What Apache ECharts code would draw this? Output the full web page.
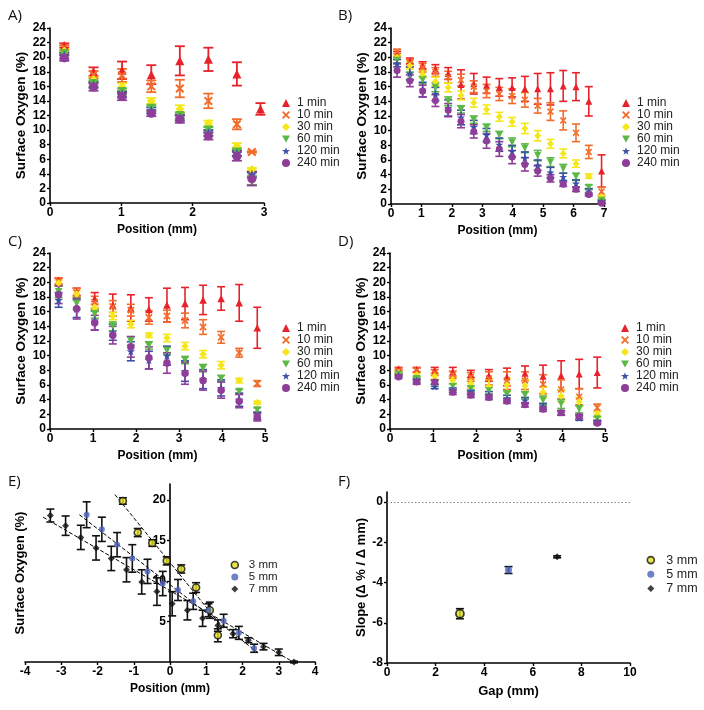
<!DOCTYPE html>
<html><head><meta charset="utf-8">
<script src="https://cdn.jsdelivr.net/npm/echarts@6/dist/echarts.min.js"></script>
<style>html,body{margin:0;padding:0;background:#fff}#c{width:704px;height:710px}</style>
</head><body><div id="c"></div><script>
// ---------- names / ticks ----------
const timeNames = ['1 min','10 min','30 min','60 min','120 min','240 min'];
const gapNames = ['3 mm','5 mm','7 mm'];
const yTicksE = [5,10,15,20];
const yTicksF = [-8,-6,-4,-2,0];

// ---------- Panel A (3 mm gap) ----------
const posA  = [0.2,0.61,1.01,1.42,1.82,2.22,2.62,2.83];
const posA1 = [0.2,0.61,1.01,1.42,1.82,2.22,2.62,2.95];
const a1   = [21.6,18.0,18.2,17.6,19.5,19.7,17.7,12.9];
const a1e  = [0.3,0.6,1.2,1.3,2.0,1.6,1.6,0.8];
const a10  = [21.3,17.6,17.5,16.0,15.7,14.0,10.8,7.0];
const a10e = [0.3,0.5,0.9,0.8,1.2,1.0,0.7,0.1];
const a30  = [20.8,16.9,15.9,14.0,12.9,10.9,7.8,4.6];
const a30e = [0.3,0.4,0.5,0.4,0.5,0.4,0.4,0.2];
const a60  = [20.5,16.4,15.3,13.0,12.0,10.0,7.0,3.1];
const a60e = [0.3,0.4,0.4,0.4,0.4,0.4,0.5,0.6];
const a120 = [20.2,16.2,14.9,12.7,11.7,9.6,6.8,3.9];
const a120e= [0.4,0.4,0.4,0.4,0.4,0.4,0.4,0.4];
const a240 = [19.9,15.9,14.6,12.3,11.5,9.2,6.4,3.3];
const a240e= [0.4,0.5,0.5,0.4,0.5,0.5,0.6,0.9];

// ---------- Panel B (7 mm gap) ----------
const posB = [0.2,0.62,1.04,1.46,1.88,2.3,2.72,3.14,3.56,3.98,4.4,4.82,5.24,5.66,6.08,6.5,6.92];
const b1   = [20.4,19.5,18.9,18.4,17.8,16.3,16.4,16.2,15.9,15.9,15.7,15.7,15.7,16.1,16.0,14.0,4.5];
const b1e  = [0.4,0.4,0.5,0.6,0.8,2.0,1.4,1.1,1.2,1.3,1.7,2.1,2.2,2.1,1.9,2.0,2.2];
const b10  = [20.8,19.2,18.6,18.0,17.3,16.9,16.0,15.4,15.0,14.7,14.2,13.4,12.6,11.4,9.7,7.1,1.7];
const b10e = [0.3,0.5,0.6,0.6,0.8,0.8,0.8,0.9,0.9,1.0,1.0,1.0,1.2,1.3,1.2,0.9,0.6];
const b30  = [20.0,18.9,17.7,16.7,15.9,14.8,13.8,12.9,11.9,11.2,10.3,9.3,8.2,6.9,5.5,3.8,0.9];
const b30e = [0.3,0.5,0.5,0.6,0.6,0.6,0.6,0.6,0.6,0.6,0.7,0.7,0.6,0.6,0.5,0.3,0.3];
const b60  = [19.6,17.5,16.9,15.9,14.0,12.9,11.5,10.4,9.4,8.4,7.6,6.6,5.7,4.8,3.7,2.3,0.5];
const b60e = [0.4,0.5,0.5,0.6,0.6,0.5,0.5,0.5,0.5,0.6,0.6,0.7,0.6,0.6,0.5,0.3,0.2];
const b120 = [19.2,17.8,15.6,15.0,13.1,11.8,10.5,9.4,8.1,7.2,6.3,5.3,4.3,3.7,2.8,1.7,0.3];
const b120e= [0.5,0.9,1.0,0.9,1.1,1.0,0.9,0.9,0.9,0.8,0.8,0.7,0.7,0.5,0.5,0.4,0.2];
const b240 = [18.2,16.8,15.4,14.1,12.8,11.3,9.9,8.6,7.5,6.4,5.4,4.5,3.5,2.7,2.0,1.3,0.1];
const b240e= [0.9,0.8,0.8,0.8,0.9,0.9,0.9,1.0,1.0,0.9,0.9,0.7,0.5,0.3,0.3,0.2,0.1];

// ---------- Panel C (5 mm gap) ----------
const posC = [0.2,0.62,1.04,1.46,1.88,2.3,2.72,3.14,3.56,3.98,4.4,4.82];
const c1   = [20.2,18.7,17.8,16.9,16.5,16.3,16.9,17.1,17.6,17.8,17.2,13.8];
const c1e  = [0.4,0.5,0.8,1.5,1.8,1.6,2.3,2.2,2.0,1.6,2.5,2.8];
const c10  = [20.1,18.6,17.3,16.7,16.2,15.2,15.4,14.8,13.9,12.5,10.4,6.2];
const c10e = [0.5,0.6,0.8,0.8,0.8,0.9,0.8,1.0,1.0,0.8,0.6,0.4];
const c30  = [19.9,18.4,16.5,15.4,14.3,12.8,12.4,11.3,10.2,8.7,6.6,3.6];
const c30e = [0.4,0.5,0.5,0.5,0.5,0.3,0.5,0.5,0.5,0.5,0.3,0.2];
const c60  = [18.7,17.1,15.7,14.0,12.0,11.4,10.7,9.4,8.3,6.9,5.1,2.6];
const c60e = [0.8,0.8,0.6,0.6,0.6,0.5,0.5,0.5,0.5,0.4,0.3,0.3];
const c120 = [17.6,16.4,14.8,13.2,10.6,9.4,10.0,7.9,6.8,5.6,4.0,1.8];
const c120e= [1.0,1.2,1.3,1.1,1.3,1.2,1.3,1.4,1.3,1.1,0.9,0.5];
const c240 = [18.3,16.4,14.5,12.8,11.2,9.7,9.0,7.6,6.6,5.3,3.8,1.6];
const c240e= [1.2,1.4,1.0,1.2,1.4,1.5,1.4,1.5,1.3,1.1,0.9,0.5];

// ---------- Panel D (5 mm gap, low O2) ----------
const posD = [0.2,0.62,1.04,1.46,1.88,2.3,2.72,3.14,3.56,3.98,4.4,4.82];
const d1   = [8.2,8.1,8.0,7.8,7.5,7.3,7.1,7.6,7.2,7.3,7.5,7.7];
const d1e  = [0.2,0.3,0.4,0.6,0.5,0.8,1.2,1.0,1.5,2.0,2.0,2.1];
const d10  = [8.0,8.0,7.7,7.4,7.1,6.9,6.6,6.6,6.1,5.4,4.4,2.9];
const d10e = [0.2,0.3,0.4,0.5,0.6,0.9,1.2,1.2,1.3,1.3,1.1,0.5];
const d30  = [7.7,7.4,7.2,6.6,6.2,5.8,6.0,5.9,5.0,4.5,3.7,2.0];
const d30e = [0.2,0.3,0.4,0.5,0.6,1.0,0.9,0.8,0.7,0.8,0.6,0.4];
const d60  = [7.5,6.9,6.2,5.8,5.5,5.2,4.7,4.6,3.9,3.4,2.7,1.4];
const d60e = [0.2,0.3,0.4,0.4,0.4,0.5,0.5,0.5,0.6,0.6,0.5,0.3];
const d120 = [7.3,6.6,5.8,5.3,5.0,4.7,4.2,3.9,3.1,2.2,1.5,1.0];
const d120e= [0.2,0.3,0.3,0.3,0.3,0.4,0.4,0.4,0.4,0.3,0.3,0.2];
const d240 = [7.1,6.4,6.4,5.0,4.6,4.3,3.8,3.3,2.7,2.2,1.7,0.8];
const d240e= [0.2,0.3,0.3,0.3,0.3,0.3,0.3,0.3,0.3,0.3,0.3,0.2];

// ---------- Panel E (centred profiles) ----------
const posE3 = [-1.3,-0.89,-0.49,-0.09,0.31,0.72,1.1,1.32];
const e3    = [19.9,16.0,14.7,12.5,11.5,9.2,6.4,3.3];
const e3e   = [0.4,0.5,0.4,0.5,0.5,0.6,1.0,0.8];
const posE5 = [-2.3,-1.88,-1.46,-1.04,-0.62,-0.2,0.22,0.64,1.06,1.48,1.9,2.32];
const e5    = [18.2,16.4,14.5,12.8,11.2,9.7,8.9,7.5,6.4,5.1,3.6,1.7];
const e5e   = [1.6,1.5,1.5,1.7,1.5,1.5,1.3,1.0,0.8,0.8,0.8,0.5];
const posE7 = [-3.3,-2.88,-2.46,-2.04,-1.62,-1.2,-0.78,-0.36,0.06,0.48,0.9,1.32,1.74,2.16,2.58,3.0,3.42];
const e7    = [18.1,16.85,15.4,14.1,12.8,11.4,9.9,8.7,7.2,6.4,5.4,4.5,3.5,2.7,1.9,1.2,0.0];
const e7e   = [0.8,1.2,1.5,1.5,1.5,1.5,1.5,1.7,1.5,1.2,1.0,0.7,0.5,0.3,0.4,0.4,0.1];
const fitX3 = [-1.52,1.5],  fitY3 = [20.7,4.0];
const fitX5 = [-2.5,2.4],   fitY5 = [18.2,1.25];
const fitX7 = [-3.5,3.4],   fitY7 = [17.9,0.0];

// ---------- Panel F (slopes) ----------
const gapX  = [3,5,7];
const slope = [-5.55,-3.38,-2.72];
const slopeE= [0.25,0.17,0.05];

// ---------- styling ----------
const COLORS = ['#e8222a','#f26d2b','#f5e617','#5cb846','#3a4fa6','#8e3d98'];
const SYMS = ['triangle',
  'path://M1.6,0 L5,3.4 L8.4,0 L10,1.6 L6.6,5 L10,8.4 L8.4,10 L5,6.6 L1.6,10 L0,8.4 L3.4,5 L0,1.6 Z',
  'diamond',
  'path://M0,0 L10,0 L5,8.7 Z',
  'path://M5,0 L6.2,3.6 L10,3.6 L6.9,5.9 L8.1,9.5 L5,7.3 L1.9,9.5 L3.1,5.9 L0,3.6 L3.8,3.6 Z',
  'circle'];
const GAPCOL = ['#e3e01e','#4a62bb','#111111'];
const GAPSYM = ['circle','circle','diamond'];
const FONT = 'Liberation Sans, Arial, sans-serif';

function errRender(capHalf, lw, fixedColor) {
  return function (params, api) {
    const x = api.value(0), y = api.value(1), e = api.value(2);
    const t = api.coord([x, y + e]), b = api.coord([x, y - e]);
    const st = { stroke: fixedColor || api.visual('color'), lineWidth: lw };
    return { type: 'group', children: [
      { type: 'line', shape: { x1: t[0], y1: t[1], x2: b[0], y2: b[1] }, style: st },
      { type: 'line', shape: { x1: t[0] - capHalf, y1: t[1], x2: t[0] + capHalf, y2: t[1] }, style: st },
      { type: 'line', shape: { x1: b[0] - capHalf, y1: b[1], x2: b[0] + capHalf, y2: b[1] }, style: st }
    ]};
  };
}

function xAxisOf(g, min, max, interval, name, fs, gap) {
  return { gridIndex: g, type: 'value', min, max, interval,
    name, nameLocation: 'middle', nameGap: gap,
    nameTextStyle: { fontFamily: FONT, fontWeight: 'bold', fontSize: fs, color: '#000' },
    axisLine: { onZero: false, lineStyle: { color: '#000', width: 1.6 } },
    axisTick: { length: 3, lineStyle: { color: '#000', width: 1.4 } },
    axisLabel: { margin: 4, fontFamily: FONT, fontWeight: 'bold', fontSize: 12, color: '#000' },
    splitLine: { show: false } };
}
function yAxisOf(g, min, max, interval, name, fs, gap) {
  return { gridIndex: g, type: 'value', min, max, interval,
    name, nameLocation: 'middle', nameGap: gap,
    nameTextStyle: { fontFamily: FONT, fontWeight: 'bold', fontSize: fs, color: '#000' },
    axisLine: { show: true, onZero: false, lineStyle: { color: '#000', width: 1.6 } },
    axisTick: { show: true, length: 3, lineStyle: { color: '#000', width: 1.4 } },
    axisLabel: { margin: 4, fontFamily: FONT, fontWeight: 'bold', fontSize: 12, color: '#000' },
    splitLine: { show: false } };
}

function panelSeries(g, sets, symSize, capHalf, lw) {
  const out = [];
  sets.forEach((st, i) => {
    out.push({ type: 'custom', name: timeNames[i] + ' err', xAxisIndex: g, yAxisIndex: g,
      renderItem: errRender(capHalf, lw), itemStyle: { color: COLORS[i] }, silent: true, z: 2,
      encode: { x: 0, y: 1 }, data: st[0].map((x, j) => [x, st[1][j], st[2][j]]) });
  });
  sets.forEach((st, i) => {
    out.push({ type: 'scatter', name: timeNames[i], xAxisIndex: g, yAxisIndex: g,
      symbol: SYMS[i], symbolSize: (i === 4 ? symSize + 1 : symSize), silent: true, z: 3,
      itemStyle: { color: COLORS[i], opacity: 1 },
      data: st[0].map((x, j) => [x, st[1][j]]) });
  });
  return out;
}

function timeLegend(left, top) {
  return { orient: 'vertical', left, top, padding: 0, itemWidth: 8, itemHeight: 8, itemGap: 0,
    selectedMode: false,
    textStyle: { fontFamily: FONT, fontSize: 12, lineHeight: 11.8, color: '#222', padding: [0, 0, 0, 2] },
    data: timeNames.map((n, i) => ({ name: n, icon: SYMS[i], itemStyle: { color: COLORS[i] } })) };
}

const series = [].concat(
  panelSeries(0, [[posA1,a1,a1e],[posA,a10,a10e],[posA,a30,a30e],[posA,a60,a60e],[posA,a120,a120e],[posA,a240,a240e]], 9, 5, 1.8),
  panelSeries(1, [[posB,b1,b1e],[posB,b10,b10e],[posB,b30,b30e],[posB,b60,b60e],[posB,b120,b120e],[posB,b240,b240e]], 7, 4, 1.6),
  panelSeries(2, [[posC,c1,c1e],[posC,c10,c10e],[posC,c30,c30e],[posC,c60,c60e],[posC,c120,c120e],[posC,c240,c240e]], 7.5, 4, 1.6),
  panelSeries(3, [[posD,d1,d1e],[posD,d10,d10e],[posD,d30,d30e],[posD,d60,d60e],[posD,d120,d120e],[posD,d240,d240e]], 7, 4, 1.6)
);

// Panel E
const eSets = [[posE3,e3,e3e],[posE5,e5,e5e],[posE7,e7,e7e]];
const fits = [[fitX3,fitY3],[fitX5,fitY5],[fitX7,fitY7]];
fits.forEach((f, i) => {
  series.push({ type: 'line', name: gapNames[i] + ' fit', xAxisIndex: 4, yAxisIndex: 4, symbol: 'none', silent: true, z: 1,
    lineStyle: { color: '#000', width: 1, type: [4, 2] }, data: f[0].map((x, j) => [x, f[1][j]]) });
});
eSets.forEach((st, i) => {
  series.push({ type: 'custom', name: gapNames[i] + ' err', xAxisIndex: 4, yAxisIndex: 4, silent: true, z: 2,
    renderItem: errRender(4, 1.6, '#111'), encode: { x: 0, y: 1 },
    data: st[0].map((x, j) => [x, st[1][j], st[2][j]]) });
});
eSets.forEach((st, i) => {
  series.push({ type: 'scatter', name: gapNames[i], xAxisIndex: 4, yAxisIndex: 4, silent: true, z: 3,
    symbol: GAPSYM[i], symbolSize: i === 0 ? 7 : (i === 1 ? 6 : 7),
    itemStyle: i === 0 ? { color: GAPCOL[0], borderColor: '#111', borderWidth: 1.6 } : { color: GAPCOL[i] },
    data: st[0].map((x, j) => [x, st[1][j]]) });
});

// Panel F
gapX.forEach((gx, i) => {
  series.push({ type: 'custom', name: gapNames[i] + ' slope err', xAxisIndex: 5, yAxisIndex: 5, silent: true, z: 2,
    renderItem: errRender(4, 1.6, '#111'), encode: { x: 0, y: 1 }, data: [[gx, slope[i], slopeE[i]]] });
});
gapX.forEach((gx, i) => {
  const s = { type: 'scatter', name: gapNames[i], xAxisIndex: 5, yAxisIndex: 5, silent: true, z: 3,
    symbol: GAPSYM[i], symbolSize: i === 0 ? 8 : 7,
    itemStyle: i === 0 ? { color: GAPCOL[0], borderColor: '#111', borderWidth: 1.8 } : { color: GAPCOL[i] },
    data: [[gx, slope[i]]] };
  if (i === 0) s.markLine = { silent: true, symbol: 'none', label: { show: false },
    lineStyle: { color: '#888', type: [1.5, 2], width: 1 }, data: [{ yAxis: 0 }] };
  series.push(s);
});

const grids = [
  { left: 50, top: 28, width: 214, height: 175 },
  { left: 391, top: 28, width: 213, height: 176 },
  { left: 50, top: 253, width: 215, height: 176 },
  { left: 390, top: 253, width: 215, height: 176 },
  { left: 25, top: 484, width: 290, height: 178 },
  { left: 387, top: 492, width: 243, height: 171 }
].map(g => Object.assign({ containLabel: false, outerBoundsMode: 'none' }, g));

const SO = 'Surface Oxygen (%)';
const xAxes = [
  xAxisOf(0, 0, 3, 1, 'Position (mm)', 12, 21),
  xAxisOf(1, 0, 7, 1, 'Position (mm)', 12, 21),
  xAxisOf(2, 0, 5, 1, 'Position (mm)', 12, 21),
  xAxisOf(3, 0, 5, 1, 'Position (mm)', 12, 21),
  xAxisOf(4, -4, 4, 1, 'Position (mm)', 12, 21),
  xAxisOf(5, 0, 10, 2, 'Gap (mm)', 13, 22)
];
const yAxes = [
  yAxisOf(0, 0, 24, 2, SO, 13.5, 21),
  yAxisOf(1, 0, 24, 2, SO, 13.5, 21),
  yAxisOf(2, 0, 24, 2, SO, 13.5, 21),
  yAxisOf(3, 0, 24, 2, SO, 13.5, 21),
  yAxisOf(4, 0, 22, 5, '', 12, 20),
  yAxisOf(5, -8, 0.5, 2, 'Slope (\u0394 % / \u0394 mm)', 13, 19)
];
// E: y axis drawn through x = 0 (grid spans -4..4, so 0 sits 145 px inside the left edge)
yAxes[4].offset = -145;
yAxes[4].axisLabel.customValues = yTicksE;
yAxes[4].axisTick.customValues = yTicksE;
yAxes[5].axisLabel.customValues = yTicksF;
yAxes[5].axisTick.customValues = yTicksF;

const gapLegend = (left, top, fs, lh, pad) => ({ orient: 'vertical', left, top, padding: 0, itemWidth: 7, itemHeight: 7, itemGap: 0,
  selectedMode: false,
  textStyle: { fontFamily: FONT, fontSize: fs, lineHeight: lh, color: '#222', padding: [0, 0, 0, pad] },
  data: gapNames.map((n, i) => ({ name: n, icon: GAPSYM[i],
    itemStyle: i === 0 ? { color: GAPCOL[0], borderColor: '#111', borderWidth: 1.6 } : { color: GAPCOL[i] } })) });

const lbl = (t, x, y) => ({ type: 'text', x, y, style: { text: t, font: '15px "Open Sans", sans-serif', fill: '#111' } });

const option = {
  animation: false,
  backgroundColor: '#fff',
  grid: grids,
  xAxis: xAxes,
  yAxis: yAxes,
  legend: [timeLegend(282, 97), timeLegend(622, 97), timeLegend(282, 322), timeLegend(621, 322),
    gapLegend(230.5, 559, 11.5, 12, 5.5), gapLegend(646.5, 553, 12.5, 14.2, 7)],
  graphic: [
    lbl('A)', 8, 8), lbl('B)', 338, 8), lbl('C)', 8, 234), lbl('D)', 338, 234),
    lbl('E)', 8, 474), lbl('F)', 338, 474),
    { type: 'text', x: 20, y: 573, rotation: Math.PI / 2,
      style: { text: SO, align: 'center', verticalAlign: 'middle', font: 'bold 13px ' + FONT, fill: '#000' } }
  ],
  series
};
const chart = echarts.init(document.getElementById('c'), null, { renderer: 'canvas' });
chart.setOption(option);
</script></body></html>
